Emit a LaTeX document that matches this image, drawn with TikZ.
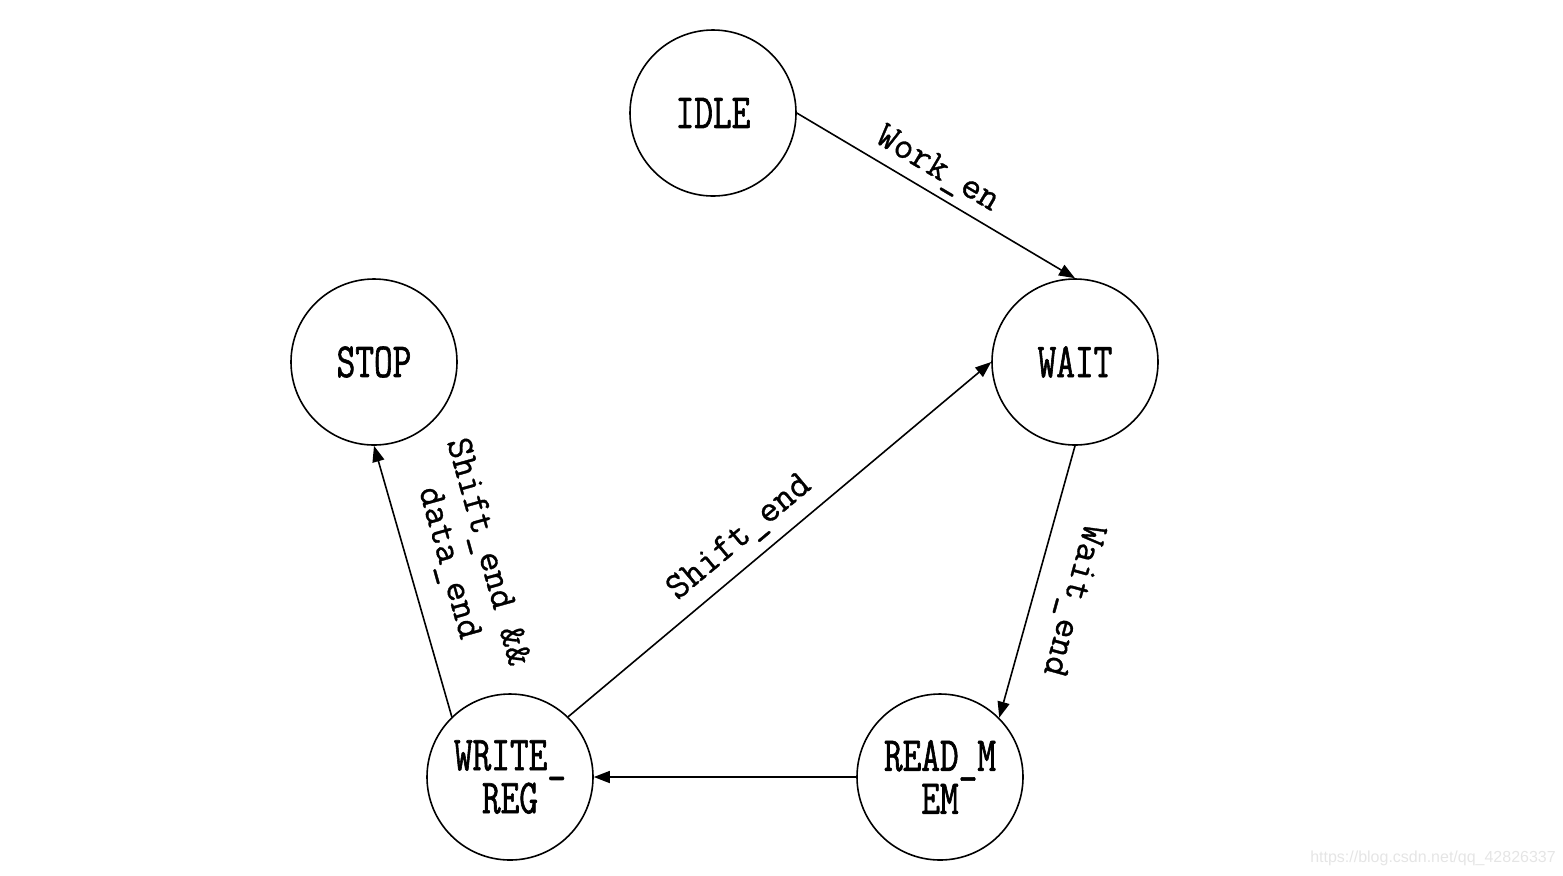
\documentclass[tikz,border=0pt]{standalone}
\usepackage{fontspec}
\setmainfont{Liberation Serif}
\newfontfamily\statefont[FakeStretch=0.74,FakeBold=1.2]{Latin Modern Mono}
\newfontfamily\labelfont[FakeBold=0.8]{Latin Modern Mono}
\newfontfamily\wmfont{Liberation Sans}
\usetikzlibrary{arrows.meta}
\begin{document}
\begin{tikzpicture}[x=0.5pt,y=-0.5pt,
  state/.style={circle,draw,line width=0.8pt,minimum size=83pt,inner sep=0pt,
    font=\statefont\fontsize{24.5}{21.5}\selectfont,align=center},
  trans/.style={line width=0.8pt,-{Triangle[length=8pt,width=6pt]}},
  lbl/.style={font=\labelfont\fontsize{19}{20}\selectfont,align=center,inner sep=0pt}]
\useasboundingbox (0,0) rectangle (1563,875);
\node[state] (idle)  at (713,113) {IDLE};
\node[state] (wait)  at (1075,362) {WAIT};
\node[state] (stop)  at (374,362) {STOP};
\node[state] (write) at (510,777) {WRITE\_\\REG};
\node[state] (read)  at (940,777) {READ\_M\\EM};

\draw[trans] (idle.east) -- (wait.north);
\draw[trans] (wait.south) -- (read.45);
\draw[trans] (read.west) -- (write.east);
\draw[trans] (write.46) -- (wait.west);
\draw[trans] (write.134) -- (stop.south);

\node[lbl,rotate=-30.6] (l1) at (937,170) {Work\_en};
\node[lbl,rotate=-105.4] (l2) at (1072,600) {Wait\_end};
\node[lbl,rotate=39.9] (l3) at (740,538) {Shift\_end};
\node[lbl,rotate=-74.4] (l4) at (467,558) {Shift\_end \&\&\\data\_end};

\node[font=\wmfont\fontsize{8}{10}\selectfont,text=black!10,inner sep=0pt] (wm) at (1433,858) {https://blog.csdn.net/qq\_42826337};
\end{tikzpicture}
\end{document}
